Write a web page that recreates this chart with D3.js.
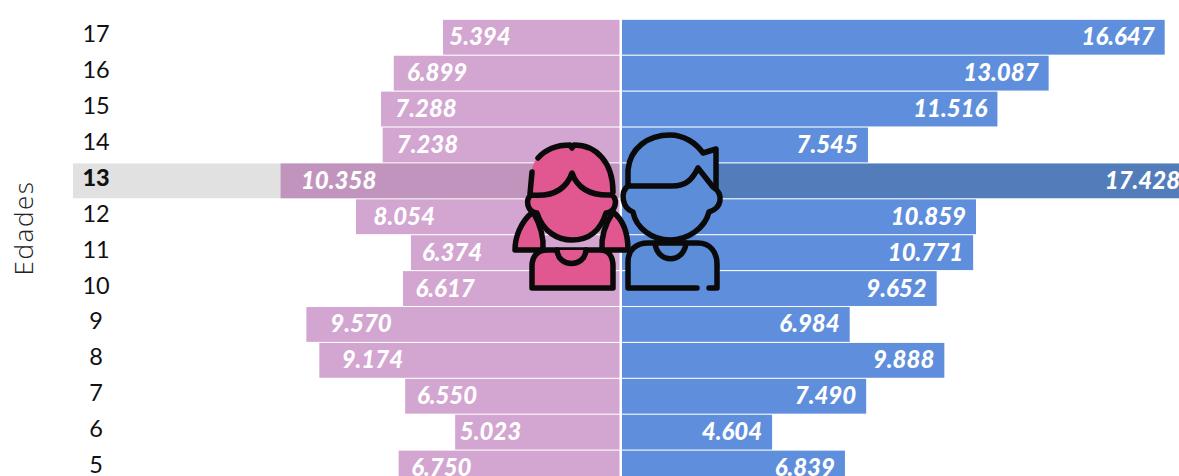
<!DOCTYPE html>
<html>
<head>
<meta charset="utf-8">
<script src="https://cdn.jsdelivr.net/npm/d3@7"></script>
<style>
    body { margin: 0; background: #fff; }
    svg { display: block; }
</style>
</head>
<body>
<div id="chart"></div>
<script>
const ages = [17, 16, 15, 14, 13, 12, 11, 10, 9, 8, 7, 6, 5];
const girls = [5394, 6899, 7288, 7238, 10358, 8054, 6374, 6617, 9570, 9174, 6550, 5023, 6750];
const boys = [16647, 13087, 11516, 7545, 17428, 10859, 10771, 9652, 6984, 9888, 7490, 4604, 6839];
const highlightAge = 13;

const width = 1179,
    height = 476,
    centerLeft = 619.5,
    centerRight = 622,
    fontFamily = 'Lato, sans-serif';

const svg = d3.select('#chart')
    .append('svg')
    .attr('width', width)
    .attr('height', height);

const y = d3.scaleBand()
    .domain(ages)
    .range([19.3, 19.3 + 35.9 * ages.length])
    .paddingInner(0.03)
    .paddingOuter(0.015);

const xGirls = d3.scaleLinear().domain([0, 10000]).range([centerLeft, centerLeft - 327.2]);
const xBoys = d3.scaleLinear().domain([0, 10000]).range([centerRight, centerRight + 326]);

const format = d3.formatLocale({decimal: ',', thousands: '.', grouping: [3], currency: ['', '']}).format(',d');

// grey band behind the highlighted age
svg.append('rect')
    .attr('x', 73)
    .attr('y', y(highlightAge))
    .attr('width', centerLeft - 73)
    .attr('height', y.bandwidth())
    .attr('fill', '#e1e1e1');

const rows = ages.map((age, i) => ({age: age, girls: girls[i], boys: boys[i]}));

svg.selectAll('.bar-girls')
    .data(rows)
    .enter()
    .append('rect')
    .attr('class', 'bar-girls')
    .attr('x', d => xGirls(d.girls))
    .attr('y', d => y(d.age))
    .attr('width', d => centerLeft - xGirls(d.girls))
    .attr('height', y.bandwidth())
    .attr('fill', d => d.age === highlightAge ? '#c194bd' : '#d3a5d1');

svg.selectAll('.bar-boys')
    .data(rows)
    .enter()
    .append('rect')
    .attr('class', 'bar-boys')
    .attr('x', centerRight)
    .attr('y', d => y(d.age))
    .attr('width', d => xBoys(d.boys) - centerRight)
    .attr('height', y.bandwidth())
    .attr('fill', d => d.age === highlightAge ? '#527dba' : '#5f8fdc');

function valueLabels(cls, key, x, anchor) {
    svg.selectAll('.' + cls)
        .data(rows)
        .enter()
        .append('text')
        .attr('class', cls)
        .attr('x', x)
        .attr('y', d => y(d.age) + y.bandwidth() / 2 + 8)
        .attr('text-anchor', anchor)
        .attr('fill', '#fff')
        .attr('font-family', fontFamily)
        .attr('font-size', 24)
        .attr('font-weight', 900)
        .attr('font-style', 'italic')
        .text(d => format(d[key]));
}

// the girls' labels sit further in on the longer bars
valueLabels('label-girls', 'girls', d => centerLeft - (centerLeft - xGirls(d.girls)) * 0.87 + 14, 'middle');
valueLabels('label-boys', 'boys', d => xBoys(d.boys) - 10, 'end');

const axis = d3.axisLeft(y).tickSize(0).tickPadding(0);
const axisWrapper = svg.append('g')
    .attr('transform', 'translate(96, -2.5)')
    .call(axis);

axisWrapper.select('.domain').remove();
axisWrapper.selectAll('text')
    .attr('text-anchor', 'middle')
    .attr('x', 0)
    .attr('fill', '#111')
    .attr('font-family', fontFamily)
    .attr('font-size', 23.5)
    .attr('font-weight', d => d === highlightAge ? 900 : 400);

svg.append('text')
    .attr('transform', 'translate(33, 228) rotate(-90)')
    .attr('text-anchor', 'middle')
    .attr('fill', '#222')
    .attr('font-family', '"Open Sans", sans-serif')
    .attr('font-size', 26)
    .attr('font-weight', 300)
    .attr('letter-spacing', 1.6)
    .text('Edades');

// kids icon
const icon = svg.append('g')
    .attr('stroke', '#0a0a0a')
    .attr('stroke-width', 5.5)
    .attr('stroke-linecap', 'round')
    .attr('stroke-linejoin', 'round');

const pink = '#e0588f', blue = '#5b8dd9';

const iconParts = [
    // girl: pigtails, body, collar
    {fill: pink, stroke: true, d: 'M533,212 C520,222 515,238 515,250 L543,250 C544,238 541,226 533,212 Z'},
    {fill: pink, stroke: true, d: 'M613,212 C626,222 628,238 628,250 L602,250 C601,238 604,226 613,212 Z'},
    {fill: pink, stroke: true, d: 'M532,288 L532,266 C532,256 538,250 547,250 L600,250 C608,250 613,256 613,266 L613,288 Z'},
    {fill: pink, stroke: true, d: 'M557,250 C558,268 585,268 586,250'},
    // girl: hair fill, then its outline with the gap on the left and the parting on top
    {fill: pink, stroke: false, d: 'M531,203 C530,180 530,168 536,160 C545,148 558,145 572,145 C596,145 613,162 613,192 L612,203 Z'},
    {fill: 'none', stroke: true, d: 'M538,158 C546,149 558,145 570,145 L572,148 L574,145 C596,145 613,162 613,192'},
    {fill: 'none', stroke: true, d: 'M532,172 L530,194'},
    // girl: face
    {fill: pink, stroke: true, d: 'M531,195 C525,200 527,212 537,213 C543,232 558,240 572,240 C588,240 600,232 606,213 C616,212 618,200 612,195 C592,196 578,190 572,173 C566,190 552,197 531,195 Z'},
    // boy: body, collar, hair, face
    {fill: blue, stroke: true, d: 'M697,288 L628,288 L628,262 C628,250 636,243 648,243 L698,243 C710,243 717,252 717,264 L717,288 L709,288'},
    {fill: 'none', stroke: true, d: 'M655,243 C657,264 684,264 686,243'},
    {fill: blue, stroke: true, d: 'M628,190 L628,170 C630,148 648,135 670,135 C684,135 696,143 703,153 L716,149 L716,190 L700,192 L628,192 Z'},
    {fill: blue, stroke: true, d: 'M628,186 C620,192 622,208 633,212 C636,228 652,240 670,240 C688,240 705,228 709,212 C722,208 724,194 713,187 L698,168 C692,180 686,186 672,186 Z'}
];

icon.selectAll('path')
    .data(iconParts)
    .enter()
    .append('path')
    .attr('fill', d => d.fill)
    .attr('stroke', d => d.stroke ? '#0a0a0a' : 'none')
    .attr('d', d => d.d);
</script>
</body>
</html>
